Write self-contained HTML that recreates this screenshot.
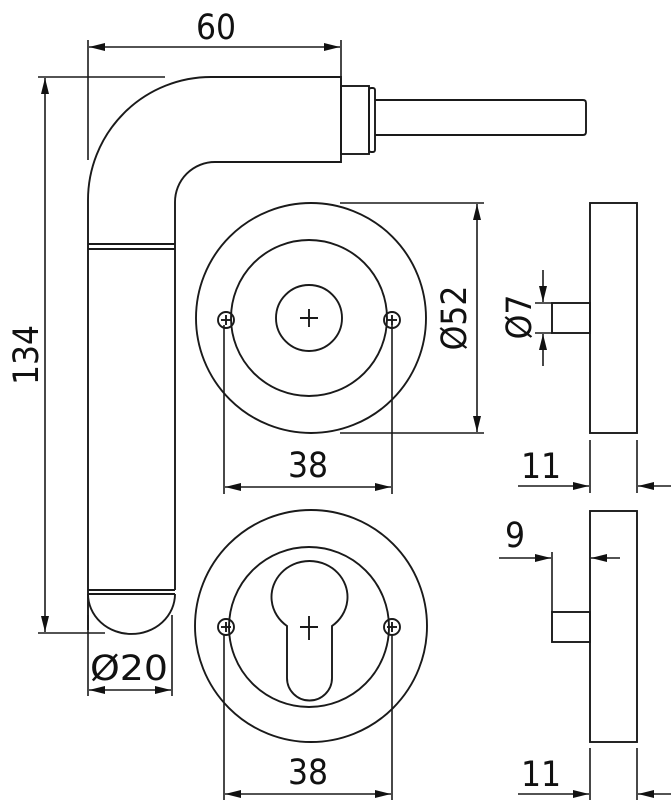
<!DOCTYPE html>
<html><head><meta charset="utf-8"><style>
html,body{margin:0;padding:0;background:#fff}
svg{display:block}
text{font-family:"DejaVu Sans Condensed","DejaVu Sans","Liberation Sans",sans-serif;fill:#111}
</style></head><body>
<svg width="671" height="800" viewBox="0 0 671 800" xmlns="http://www.w3.org/2000/svg">
<defs>
<marker id="a" viewBox="0 0 16 8" refX="16" refY="4" markerWidth="16" markerHeight="8" markerUnits="userSpaceOnUse" orient="auto-start-reverse">
<path d="M0,0 L16,4 L0,8 Z" fill="#111"/></marker>
</defs>
<g fill="none" stroke="#1a1a1a" stroke-width="1.9">
<path d="M88,630 L88,200 A123,123 0 0 1 211,77 L341,77 L341,162 L215,162 A40,40 0 0 0 175,202 L175,590"/>
<line x1="88" y1="244" x2="175" y2="244"/><line x1="88" y1="249" x2="175" y2="249"/>
<line x1="88" y1="590" x2="175" y2="590"/><line x1="88" y1="594" x2="175" y2="594"/>
<path d="M88,594 A43.5,40 0 0 0 175,594"/>
<rect x="341" y="86" width="28" height="68"/>
<rect x="369" y="88" width="6" height="64" rx="2"/>
<path d="M375,100 L583,100 Q586,100 586,103 L586,132 Q586,135 583,135 L375,135"/>
<circle cx="311" cy="318" r="115"/>
<circle cx="309" cy="318" r="78"/>
<circle cx="309" cy="318" r="33"/>
<line x1="300" y1="318" x2="318" y2="318"/><line x1="309" y1="309" x2="309" y2="327"/>
<circle cx="226" cy="320" r="8"/><line x1="221" y1="320" x2="231" y2="320"/><line x1="226" y1="315" x2="226" y2="325"/>
<circle cx="392" cy="320" r="8"/><line x1="387" y1="320" x2="397" y2="320"/><line x1="392" y1="315" x2="392" y2="325"/>
<circle cx="311" cy="626" r="116"/>
<circle cx="309" cy="627" r="80"/>
<path d="M287,626 A38,36 0 1 1 332,626 L332,678 A22.5,22.5 0 0 1 287,678 Z"/>
<line x1="300" y1="627" x2="318" y2="627"/><line x1="309" y1="616" x2="309" y2="640"/>
<circle cx="226" cy="627" r="8"/><line x1="221" y1="627" x2="231" y2="627"/><line x1="226" y1="622" x2="226" y2="632"/>
<circle cx="392" cy="627" r="8"/><line x1="387" y1="627" x2="397" y2="627"/><line x1="392" y1="622" x2="392" y2="632"/>
<rect x="590" y="203" width="47" height="230"/>
<rect x="552" y="303" width="38" height="30"/>
<rect x="590" y="511" width="47" height="231"/>
<rect x="552" y="612" width="38" height="30"/>
</g>
<g fill="none" stroke="#1a1a1a" stroke-width="1.6">
<line x1="88" y1="40" x2="88" y2="160"/><line x1="341" y1="40" x2="341" y2="92"/>
<line x1="89" y1="47" x2="340" y2="47" marker-start="url(#a)" marker-end="url(#a)"/>
<line x1="38" y1="77" x2="165" y2="77"/><line x1="38" y1="633" x2="105" y2="633"/>
<line x1="45" y1="78" x2="45" y2="632" marker-start="url(#a)" marker-end="url(#a)"/>
<line x1="88" y1="615" x2="88" y2="696"/><line x1="172" y1="615" x2="172" y2="696"/>
<line x1="89" y1="690" x2="171" y2="690" marker-start="url(#a)" marker-end="url(#a)"/>
<line x1="340" y1="203" x2="484" y2="203"/><line x1="340" y1="433" x2="484" y2="433"/>
<line x1="477" y1="204" x2="477" y2="432" marker-start="url(#a)" marker-end="url(#a)"/>
<line x1="224" y1="325" x2="224" y2="494"/><line x1="392" y1="325" x2="392" y2="494"/>
<line x1="225" y1="487" x2="391" y2="487" marker-start="url(#a)" marker-end="url(#a)"/>
<line x1="224" y1="635" x2="224" y2="800"/><line x1="392" y1="635" x2="392" y2="800"/>
<line x1="225" y1="794" x2="391" y2="794" marker-start="url(#a)" marker-end="url(#a)"/>
<line x1="535" y1="303" x2="552" y2="303"/><line x1="535" y1="333" x2="552" y2="333"/>
<line x1="543" y1="270" x2="543" y2="302" marker-end="url(#a)"/>
<line x1="543" y1="366" x2="543" y2="334" marker-end="url(#a)"/>
<line x1="590" y1="440" x2="590" y2="493"/><line x1="637" y1="440" x2="637" y2="493"/>
<line x1="518" y1="486" x2="589" y2="486" marker-end="url(#a)"/>
<line x1="671" y1="486" x2="638" y2="486" marker-end="url(#a)"/>
<line x1="552" y1="552" x2="552" y2="612"/>
<line x1="499" y1="558" x2="551" y2="558" marker-end="url(#a)"/>
<line x1="620" y1="558" x2="591" y2="558" marker-end="url(#a)"/>
<line x1="590" y1="748" x2="590" y2="800"/><line x1="637" y1="748" x2="637" y2="800"/>
<line x1="518" y1="794" x2="589" y2="794" marker-end="url(#a)"/>
<line x1="671" y1="794" x2="638" y2="794" marker-end="url(#a)"/>
</g>
<g font-size="35">
<text x="216" y="39" text-anchor="middle">60</text>
<text transform="translate(38,355) rotate(-90)" text-anchor="middle">134</text>
<text x="129" y="680" text-anchor="middle" textLength="78" lengthAdjust="spacingAndGlyphs">Ø20</text>
<text transform="translate(466,318) rotate(-90)" text-anchor="middle">Ø52</text>
<text x="308" y="477" text-anchor="middle">38</text>
<text x="308" y="784" text-anchor="middle">38</text>
<text transform="translate(531,317) rotate(-90)" text-anchor="middle">Ø7</text>
<text x="541" y="478" text-anchor="middle">11</text>
<text x="515" y="547" text-anchor="middle">9</text>
<text x="541" y="786" text-anchor="middle">11</text>
</g>
</svg>
</body></html>
